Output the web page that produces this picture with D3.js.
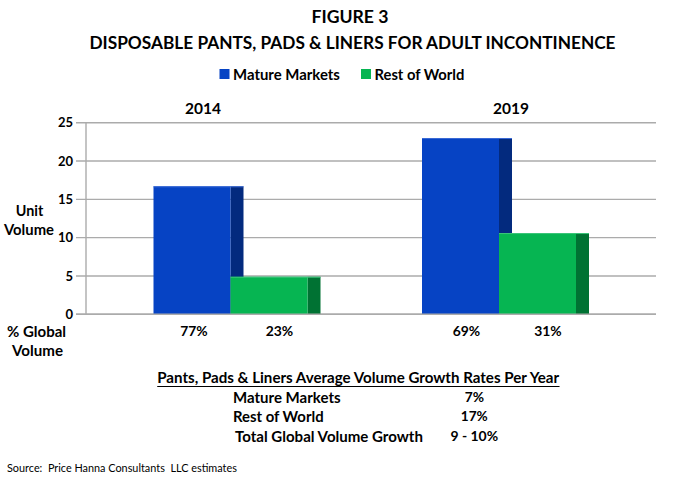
<!DOCTYPE html>
<html><head><meta charset="utf-8">
<script src="https://cdn.jsdelivr.net/npm/d3@7"></script>
<style>body{margin:0;background:#fff}svg{display:block}text{font-family:Lato,"Open Sans",sans-serif;fill:#000;white-space:pre}</style>
</head><body>
<svg id="c" width="700" height="477"></svg>
<script>
// ---- data ----
const years = ["2014", "2019"];
const seriesNames = ["Mature Markets", "Rest of World"];
const matureValues = [16.7, 23.0];
const restValues = [4.9, 10.6];
const matureShare = ["77%", "69%"];
const restShare = ["23%", "31%"];
const yTicks = [0, 5, 10, 15, 20, 25];
const growthLabels = ["Mature Markets", "Rest of World", "Total Global Volume Growth"];
const growthValues = ["7%", "17%", "9 - 10%"];

// ---- layout ----
const svg = d3.select("#c");
const colors = { front: ["#0643C4", "#06B552"], side: ["#032A7E", "#007233"], topEdge: ["#3a6ad6", "#3cc57a"] };
const plotLeft = 86, plotRight = 656, gridLeft = 76;
const y = d3.scaleLinear().domain([0, 25]).range([314.3, 122.7]);
const gx = d3.scalePoint().domain(years).range([153.5, 422]);
const frontW = 77, sideW = 13;
const yearLabelOffset = { "2014": 49.5, "2019": 89 };

function fit(sel, w) {
  sel.each(function () {
    const cur = this.getComputedTextLength();
    const fs = parseFloat(this.getAttribute("font-size"));
    this.setAttribute("font-size", (fs * w / cur).toFixed(2));
  });
  return sel;
}
function txt(x, yy, s, size, opts = {}) {
  const t = svg.append("text").attr("x", x).attr("y", yy).attr("font-size", size)
    .attr("font-weight", opts.weight || "bold").attr("text-anchor", opts.anchor || "middle")
    .attr("dominant-baseline", "central").text(s);
  if (opts.w) fit(t, opts.w);
  return t;
}

// titles
txt(350, 16, "FIGURE 3", 17, { w: 77 });
txt(352.5, 42, "DISPOSABLE PANTS, PADS & LINERS FOR ADULT INCONTINENCE", 17, { w: 526 });

// legend
const legendX = [219.5, 361];
const legendW = [107, 90];
seriesNames.forEach((n, i) => {
  svg.append("rect").attr("x", legendX[i]).attr("y", 69).attr("width", 10).attr("height", 10).attr("fill", colors.front[i]);
  txt(legendX[i] + 13.5, 74, n, 14, { anchor: "start", w: legendW[i] });
});

// gridlines
svg.append("g").selectAll("line").data(yTicks).join("line")
  .attr("x1", gridLeft).attr("x2", plotRight)
  .attr("y1", d => y(d)).attr("y2", d => y(d))
  .attr("stroke", "#ababab").attr("stroke-width", 1.4);
svg.append("line").attr("x1", plotLeft).attr("x2", plotLeft).attr("y1", y(25)).attr("y2", y(0))
  .attr("stroke", "#ababab").attr("stroke-width", 1.4);

// y axis labels
const ax = svg.append("g").attr("transform", `translate(${plotLeft},0)`)
  .call(d3.axisLeft(y).tickValues(yTicks).tickSize(0).tickPadding(13));
ax.select(".domain").remove();
ax.selectAll("text").attr("font-size", 13).attr("font-weight", "bold")
  .attr("font-family", "Lato,sans-serif").attr("fill", "#000");

// bars
years.forEach((yr, i) => {
  const x0 = gx(yr);
  const vals = [matureValues[i], restValues[i]];
  vals.forEach((v, s) => {
    const bx = x0 + s * frontW;
    svg.append("rect").attr("x", bx + frontW).attr("y", y(v)).attr("width", sideW)
      .attr("height", y(0) - y(v)).attr("fill", colors.side[s]);
  });
  vals.forEach((v, s) => {
    const bx = x0 + s * frontW;
    svg.append("rect").attr("x", bx).attr("y", y(v)).attr("width", frontW)
      .attr("height", y(0) - y(v)).attr("fill", colors.front[s]);
    svg.append("line").attr("x1", bx).attr("x2", bx + frontW + sideW).attr("y1", y(v) + 0.5).attr("y2", y(v) + 0.5)
      .attr("stroke", colors.topEdge[s]).attr("stroke-width", 1);
  });
  txt(x0 + yearLabelOffset[yr], 107.5, yr, 15.5, { w: 36 });
  txt(x0 + frontW / 2 + 2 + i * 4, 330.7, matureShare[i], 14, { w: 27.5 });
  txt(x0 + frontW * 1.5 + 10.5, 330.7, restShare[i], 14, { w: 27.5 });
});
// redraw zero line on top
svg.append("line").attr("x1", gridLeft).attr("x2", plotRight).attr("y1", y(0)).attr("y2", y(0))
  .attr("stroke", "#ababab").attr("stroke-width", 1.4);

// axis titles
txt(29.5, 210, "Unit", 15, { w: 27.5 });
txt(29, 229, "Volume", 15, { w: 50 });
txt(36.5, 330.7, "% Global", 15, { w: 59 });
txt(37.5, 350, "Volume", 15, { w: 51 });

// growth table
const tt = txt(358.2, 377.3, "Pants, Pads & Liners Average Volume Growth Rates Per Year", 15, { w: 402 });
const bb = tt.node().getBBox();
svg.append("line").attr("x1", bb.x).attr("x2", bb.x + bb.width).attr("y1", 386.5).attr("y2", 386.5)
  .attr("stroke", "#000").attr("stroke-width", 1);
const rowY = d3.scalePoint().domain(growthLabels).range([396.7, 435.7]);
const labW = [107.7, 90.7, 188];
const valW = [19.3, 27, 47.7];
growthLabels.forEach((l, i) => {
  txt(i === 2 ? 235 : 233, rowY(l), l, 15, { anchor: "start", w: labW[i] });
  txt(474.3, rowY(l), growthValues[i], 15, { w: valW[i] });
});

// source
txt(7, 467.3, "Source:  Price Hanna Consultants  LLC estimates", 12, { anchor: "start", weight: "normal", w: 230 });
</script>
</body></html>
